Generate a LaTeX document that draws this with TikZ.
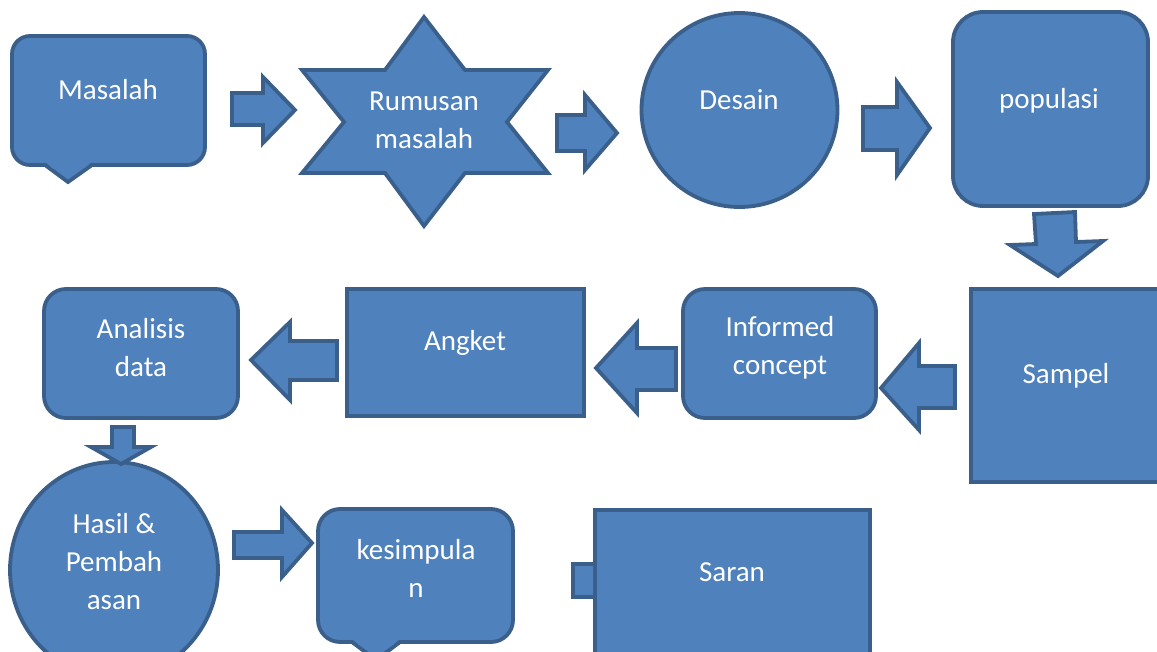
\documentclass[tikz,border=0pt]{standalone}
\usepackage{fontspec}
\setmainfont{Carlito}
\usepackage{tikz}

\definecolor{biru}{HTML}{4F81BD}
\definecolor{tepi}{HTML}{3A5F8B}
\newcommand{\hurufteks}{\fontsize{29}{38}\selectfont}

\begin{document}
\begin{tikzpicture}[
      x = 1pt, y = -1pt,
      bentuk/.style = {fill = biru, draw = tepi, line width = 3.8pt},
      ekor/.style = {draw = tepi, line width = 3.8pt},
      every node/.style = {
        text = white, align = center, inner sep = 0pt, font = \hurufteks}
      ]
    \clip (0,0) rectangle (1157,651);
    % baris 1
    \draw[bentuk, rounded corners = 18] (12,36) rectangle (205,165);
    \fill[biru] (45,162) -- (92,162) -- (68,182) -- cycle;
    \draw[ekor] (92,165) -- (68,182) -- (45,165);
    \draw[bentuk] (232,93) -- (263,93) -- (263,77) -- (295,110)
      -- (263,143) -- (263,125) -- (232,125) -- cycle;
    \draw[bentuk] (424,17) -- (465,70) -- (548,70) -- (507,122) -- (548,173)
      -- (465,173) -- (424,226) -- (385,173) -- (302,173) -- (344,122)
      -- (302,70) -- (385,70) -- cycle;
    \draw[bentuk] (557,115) -- (585,115) -- (585,95) -- (617,133)
      -- (585,170) -- (585,151) -- (557,151) -- cycle;
    \draw[bentuk] (739.5,110) ellipse [x radius = 98, y radius = 97];
    \draw[bentuk] (863,107) -- (897,107) -- (897,82) -- (930,128)
      -- (897,175) -- (897,150) -- (863,150) -- cycle;
    \draw[bentuk, rounded corners = 30] (953,12) rectangle (1148,206);
    \draw[bentuk] (1034,214) -- (1075,212) -- (1076,242) -- (1103,241)
      -- (1058,276) -- (1010,245) -- (1036,244) -- cycle;
    % baris 2
    \draw[bentuk] (971,289) rectangle (1175,482);
    \draw[bentuk] (955,366) -- (919,366) -- (919,343) -- (881,388)
      -- (919,430) -- (919,408) -- (955,408) -- cycle;
    \draw[bentuk, rounded corners = 22] (683,289) rectangle (876,418);
    \draw[bentuk] (676,348) -- (637,348) -- (637,323) -- (596,368)
      -- (637,413) -- (637,390) -- (676,390) -- cycle;
    \draw[bentuk] (347,289) rectangle (584,416);
    \draw[bentuk] (337,341) -- (290,341) -- (290,322) -- (251,360)
      -- (290,400) -- (290,380) -- (337,380) -- cycle;
    \draw[bentuk, rounded corners = 22] (44,289) rectangle (238,418);
    % baris 3
    \draw[bentuk] (114,570) ellipse [x radius = 104, y radius = 108];
    \draw[bentuk] (112,427) -- (134,427) -- (134,447) -- (151,447)
      -- (121,464) -- (91,447) -- (112,447) -- cycle;
    \draw[bentuk] (234,532) -- (282,532) -- (282,510) -- (312,543)
      -- (282,577) -- (282,558) -- (234,558) -- cycle;
    \draw[bentuk, rounded corners = 22] (318,509) rectangle (513,642);
    \fill[biru] (352,639) -- (400,639) -- (376,660) -- cycle;
    \draw[ekor] (400,642) -- (376,660) -- (352,642);
    \draw[bentuk] (573,564) rectangle (597,597);
    \draw[bentuk] (595,510) rectangle (870,700);
    % teks
    \node (masalah) at (108,90) {Masalah}; % 0
    \node (rumusan) at (424,120) {Rumusan\\masalah}; % 1
    \node (desain) at (739,100) {Desain}; % 2
    \node (populasi) at (1049,101) {populasi}; % 3
    \node (sampel) at (1066,376) {Sampel}; % 4
    \node (informed) at (780,348) {Informed\\concept}; % 5
    \node (angket) at (465,343) {Angket}; % 6
    \node (analisis) at (141,348) {Analisis\\data}; % 7
    \node (hasil) at (114,562) {Hasil \&\\Pembah\\asan}; % 8
    \node (kesimpulan) at (416,568) {kesimpula\\n}; % 9
    \node (saran) at (732,572) {Saran}; % 10
  \end{tikzpicture}
\end{document}
